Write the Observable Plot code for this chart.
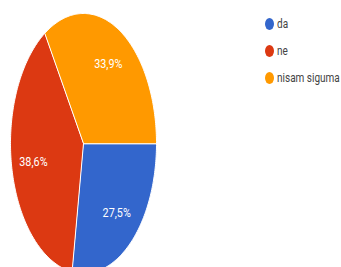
<!DOCTYPE html>
<html>
<head>
<meta charset="utf-8">
<script src="https://cdn.jsdelivr.net/npm/d3@7"></script>
<script src="https://cdn.jsdelivr.net/npm/@observablehq/plot@0.6"></script>
<style>
  html, body { margin: 0; padding: 0; background: #fff; }
  #wrap { position: relative; width: 341px; height: 267px; overflow: hidden; }
  #legend { position: absolute; left: 265px; top: 10px; font-family: "Roboto", sans-serif; font-size: 13px; color: #444; white-space: nowrap; }
  .item { display: flex; align-items: center; height: 27px; }
  .sw { width: 9px; height: 12px; border-radius: 50%; margin-right: 3px; flex: none; }
  .lab { display: inline-block; transform: scaleX(0.77); transform-origin: left center; }
</style>
</head>
<body>
<div id="wrap"><div id="chart"></div><div id="legend"></div></div>
<script>
const categories = ["da", "ne", "nisam siguma"];
const values = [27.5, 38.6, 33.9];
const labels = ["27,5%", "38,6%", "33,9%"];
const colors = ["#3366cc", "#dc3912", "#ff9900"];

const total = d3.sum(values);
const slices = [];
const labelPts = [];
let acc = 0;
categories.forEach((c, i) => {
  const a0 = acc / total * 2 * Math.PI;
  acc += values[i];
  const a1 = acc / total * 2 * Math.PI;
  slices.push({category: c, x: 0, y: 0});
  const n = Math.max(2, Math.ceil((a1 - a0) / (Math.PI / 180)));
  for (let k = 0; k <= n; k++) {
    const a = a0 + (a1 - a0) * k / n;
    slices.push({category: c, x: Math.cos(a), y: Math.sin(a)});
  }
  const am = (a0 + a1) / 2;
  labelPts.push({label: labels[i], x: 0.7 * Math.cos(am), y: 0.7 * Math.sin(am)});
});

const chart = Plot.plot({
  width: 341,
  height: 267,
  margin: 0,
  x: {domain: [-1, 1], range: [10, 156], axis: null},
  y: {domain: [-1, 1], range: [13, 273], axis: null},
  color: {domain: categories, range: colors},
  style: {overflow: "visible", background: "transparent"},
  marks: [
    Plot.line(slices, {x: "x", y: "y", z: "category", fill: "category", stroke: "#fff", strokeWidth: 1, curve: "linear-closed"}),
    Plot.text(labelPts, {x: "x", y: "y", text: "label", fill: "#fff", fontSize: 13.5, fontFamily: "Roboto, sans-serif"})
  ]
});
d3.select(chart).selectAll("text").each(function() {
  const t = this.getAttribute("transform");
  if (t) this.setAttribute("transform", t + " scale(0.8,1)");
});
document.getElementById("chart").appendChild(chart);

const legend = d3.select("#legend");
categories.forEach((c, i) => {
  const it = legend.append("div").attr("class", "item");
  it.append("div").attr("class", "sw").style("background", colors[i]);
  it.append("span").attr("class", "lab").text(c);
});
</script>
</body>
</html>
